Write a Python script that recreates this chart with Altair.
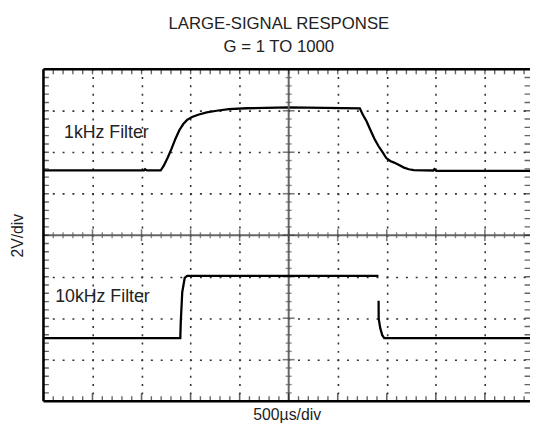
import altair as alt
import pandas as pd
import numpy as np

# ---------------- text ----------------
TITLE = ["LARGE-SIGNAL RESPONSE", "G = 1 TO 1000"]
X_TITLE = "500\u00b5s/div"
Y_TITLE = "2V/div"

# ---------------- screen geometry (in divisions) ----------------
N_XDIV = 10
N_YDIV = 8
X_VISIBLE = 9.92          # right edge of the screen is cut off in the reference
MINOR_STEP = 0.2

# ---------------- 1 kHz filter trace (time div, level div) ----------------
T_1K = [0.0, 2.05, 2.07, 2.11, 2.39, 2.45, 2.53, 2.61, 2.69, 2.77, 2.85, 2.93,
        3.03, 3.17, 3.33, 3.53, 3.78, 4.14, 5.00, 5.74, 6.45, 6.51,
        6.59, 6.65, 6.75, 6.83, 6.91, 6.99, 7.07, 7.15, 7.25, 7.35, 7.45, 7.55,
        7.95, 7.97, 8.01, 9.92]
V_1K = [5.56, 5.56, 5.59, 5.56, 5.56, 5.67, 5.86, 6.08, 6.32, 6.53, 6.68, 6.78,
        6.85, 6.91, 6.96, 7.00, 7.04, 7.06, 7.08, 7.07, 7.06, 6.91,
        6.74, 6.58, 6.32, 6.15, 6.01, 5.86, 5.79, 5.75, 5.69, 5.63, 5.59, 5.57,
        5.56, 5.59, 5.55, 5.55]

# ---------------- 10 kHz filter trace, two visible pieces ----------------
T_10K_A = [0.0, 2.79, 2.80, 2.83, 2.88, 2.93, 6.83]
V_10K_A = [1.52, 1.52, 1.92, 2.63, 2.97, 3.02, 3.02]
T_10K_B = [6.833, 6.835, 6.867, 6.908, 6.948, 9.92]
V_10K_B = [2.42, 1.99, 1.76, 1.59, 1.52, 1.52]

# ---------------- trace labels ----------------
LABELS = ["1kHz Filter", "10kHz Filter"]
LABEL_T = [0.42, 0.24]
LABEL_V = [6.46, 2.52]

FONT = "Liberation Sans"

# ---------------- tables ----------------
df1 = pd.DataFrame({"t": T_1K, "v": V_1K, "i": range(len(T_1K)), "seg": "1k"})
df2 = pd.concat([
    pd.DataFrame({"t": T_10K_A, "v": V_10K_A, "i": range(len(T_10K_A)), "seg": "a"}),
    pd.DataFrame({"t": T_10K_B, "v": V_10K_B, "i": range(len(T_10K_B)), "seg": "b"}),
])
df_lab = pd.DataFrame({"t": LABEL_T, "v": LABEL_V, "label": LABELS})

xt = np.round(np.arange(0, N_XDIV + 1e-9, MINOR_STEP), 3)
yt = np.round(np.arange(0, N_YDIV + 1e-9, MINOR_STEP), 3)
tx = pd.DataFrame({"t": xt, "major": np.isclose(xt, np.round(xt))})
ty = pd.DataFrame({"v": yt, "major": np.isclose(yt, np.round(yt))})

xs = alt.Scale(domain=[0, X_VISIBLE], nice=False, zero=False, padding=0)
ys = alt.Scale(domain=[0, N_YDIV], nice=False, zero=False, padding=0)

X_GRID = [1, 2, 3, 4, 6, 7, 8, 9]
Y_GRID = [1, 2, 3, 5, 6, 7]

x_axis = alt.Axis(values=X_GRID, grid=True, gridDash=[2, 6.425], gridDashOffset=1,
                  gridColor="#333", gridWidth=1.6, labels=False, ticks=False,
                  domain=False, title=X_TITLE, titleFont=FONT, titleFontSize=16,
                  titleFontWeight="normal", titleColor="#222", titlePadding=6)
y_axis = alt.Axis(values=Y_GRID, grid=True, gridDash=[2, 7.96], gridDashOffset=1,
                  gridColor="#333", gridWidth=1.6, labels=False, ticks=False,
                  domain=False, title=Y_TITLE, titleFont=FONT, titleFontSize=16,
                  titleFontWeight="normal", titleColor="#222", titlePadding=18)

XF = alt.X("t:Q", scale=xs, axis=x_axis)
YF = alt.Y("v:Q", scale=ys, axis=y_axis)


def XD(v):
    return alt.XDatum(v, scale=xs, axis=x_axis)


def YD(v):
    return alt.YDatum(v, scale=ys, axis=y_axis)


trace1 = alt.Chart(df1).mark_line(color="black", strokeWidth=2.3).encode(
    x=XF, y=YF, order="i:Q",
)
trace2 = alt.Chart(df2).mark_line(color="black", strokeWidth=2.3).encode(
    x=XF, y=YF, detail="seg:N", order="i:Q",
)

# centre cross-hair
center_v = alt.Chart(tx.head(1)).mark_rule(color="#666", strokeWidth=2).encode(x=XD(5))
center_h = alt.Chart(tx.head(1)).mark_rule(color="#666", strokeWidth=2).encode(y=YD(4))
cx_minor = alt.Chart(tx[~tx.major]).mark_tick(orient="vertical", color="#555", thickness=1.4, size=6).encode(x=XF, y=YD(4))
cx_major = alt.Chart(tx[tx.major]).mark_tick(orient="vertical", color="#444", thickness=1.6, size=12).encode(x=XF, y=YD(4))
cy_minor = alt.Chart(ty[~ty.major]).mark_tick(orient="horizontal", color="#555", thickness=1.4, size=6).encode(y=YF, x=XD(5))
cy_major = alt.Chart(ty[ty.major]).mark_tick(orient="horizontal", color="#444", thickness=1.6, size=12).encode(y=YF, x=XD(5))

# frame
frame_l = alt.Chart(tx.head(1)).mark_rule(color="black", strokeWidth=2.6).encode(x=XD(0))
frame_t = alt.Chart(tx.head(1)).mark_rule(color="black", strokeWidth=2.6).encode(y=YD(N_YDIV))
frame_b = alt.Chart(tx.head(1)).mark_rule(color="black", strokeWidth=2.6).encode(y=YD(0))

tk_top = alt.Chart(tx).mark_tick(orient="vertical", color="#222", thickness=1.4, size=10, clip=True).encode(x=XF, y=YD(N_YDIV))
tk_bot_minor = alt.Chart(tx[~tx.major]).mark_tick(orient="vertical", color="#222", thickness=1.4, size=10, clip=True).encode(x=XF, y=YD(0))
tk_bot_major = alt.Chart(tx[tx.major]).mark_tick(orient="vertical", color="#222", thickness=1.6, size=16, clip=True).encode(x=XF, y=YD(0))
tk_left = alt.Chart(ty).mark_tick(orient="horizontal", color="#222", thickness=1.4, size=11, clip=True).encode(y=YF, x=XD(0))
tk_right = alt.Chart(ty).mark_tick(orient="horizontal", color="#222", thickness=1.4, size=19, clip=True).encode(y=YF, x=XD(N_XDIV))

labels = alt.Chart(df_lab).mark_text(align="left", baseline="middle", font=FONT,
                                     fontSize=18, color="#222").encode(
    x=XF, y=YF, text="label:N")

chart = alt.layer(
    trace1, center_v, center_h, cx_minor, cx_major, cy_minor, cy_major,
    tk_top, tk_bot_minor, tk_bot_major, tk_left, tk_right,
    frame_l, frame_t, frame_b, trace2, labels,
).properties(
    width=494, height=337,
    padding={"left": 36, "top": 59, "right": 0, "bottom": 21},
    autosize=alt.AutoSizeParams(type="none"),
    title=alt.Title(TITLE, font=FONT, fontSize=17, fontWeight="normal", color="#222",
                    anchor="middle", offset=12, lineHeight=24, dx=-8),
).configure_view(stroke=None)

chart.save("out.html", embed_options={"renderer": "svg", "actions": False})
